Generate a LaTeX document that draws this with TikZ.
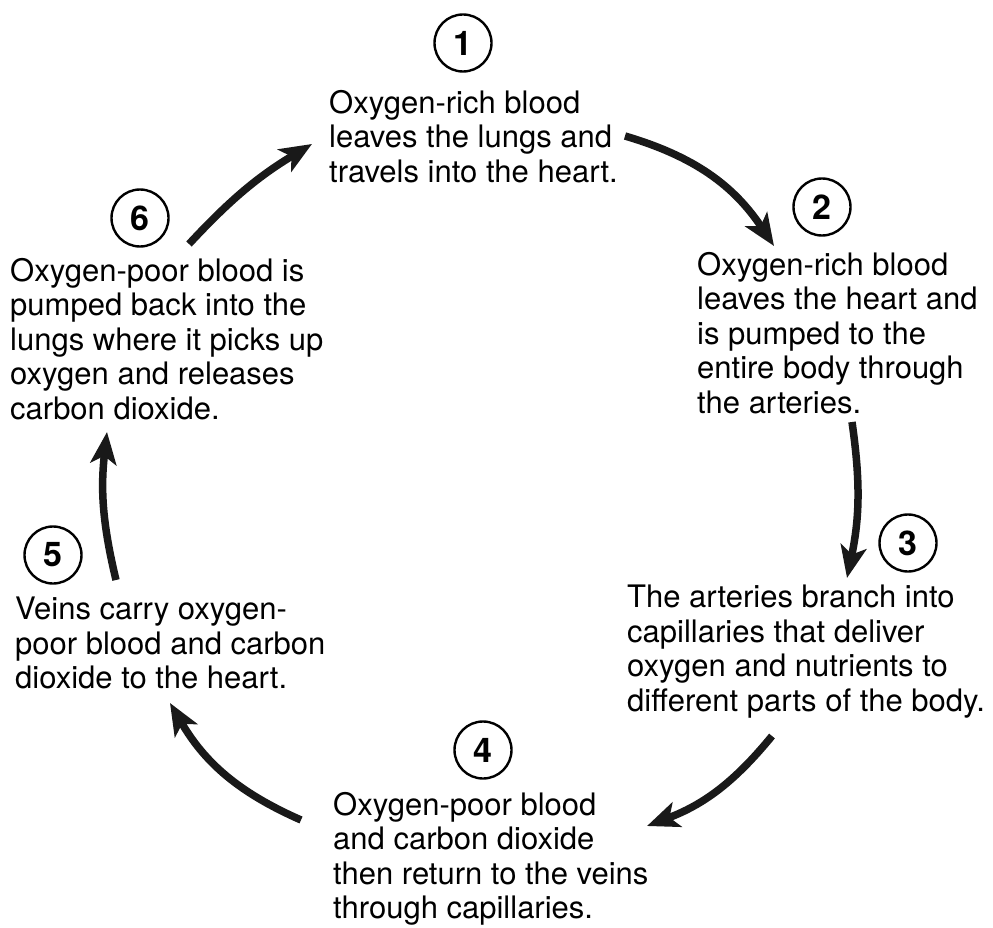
\documentclass[tikz,border=0pt]{standalone}
\usepackage{fontspec}
\setmainfont{TeX Gyre Heros}
\usetikzlibrary{arrows.meta}

\begin{document}
\begin{tikzpicture}[x=1pt, y=-1pt]
\tikzstyle{num}=[circle, draw=black, line width=2.4pt, minimum size=57pt, inner sep=0pt, font=\fontsize{34}{34}\selectfont\bfseries]
\tikzstyle{desc}=[anchor=north west, align=left, inner sep=0pt, font=\fontsize{31}{34.5}\selectfont]
\tikzstyle{connect}=[-{Stealth[length=32pt, width=26pt, inset=8pt]}, line width=7.5pt, black!90]

\useasboundingbox (0,0) rectangle (993,928);

  % step numbers
  \node[num] (n1) at (463,43)  {1};
  \node[num] (n2) at (822,207) {2};
  \node[num] (n3) at (908,543) {3};
  \node[num] (n4) at (483,750) {4};
  \node[num] (n5) at (53,555)  {5};
  \node[num] (n6) at (140,218) {6};

  % step texts
  \node[desc] (t1) at (329,90)  {Oxygen-rich blood\\leaves the lungs and\\travels into the heart.};
  \node[desc] (t2) at (697,252) {Oxygen-rich blood\\leaves the heart and\\is pumped to the\\entire body through\\the arteries.};
  \node[desc] (t3) at (627,585) {The arteries branch into\\capillaries that deliver\\oxygen and nutrients to\\different parts of the body.};
  \node[desc] (t4) at (333,792) {Oxygen-poor blood\\and carbon dioxide\\then return to the veins\\through capillaries.};
  \node[desc] (t5) at (15,597)  {Veins carry oxygen-\\poor blood and carbon\\dioxide to the heart.};
  \node[desc] (t6) at (10,258)  {Oxygen-poor blood is\\pumped back into the\\lungs where it picks up\\oxygen and releases\\carbon dioxide.};

  % arrow ends
  \coordinate (a61s) at (189,244);
  \coordinate (a61e) at (312,144);
  \coordinate (a12s) at (625,136);
  \coordinate (a12e) at (774,246);
  \coordinate (a23s) at (852,422);
  \coordinate (a23e) at (847,578);
  \coordinate (a34s) at (772,736);
  \coordinate (a34e) at (647,826);
  \coordinate (a45s) at (301,820);
  \coordinate (a45e) at (170,703);
  \coordinate (a56s) at (116,580);
  \coordinate (a56e) at (107,432);

  \path (a61s) edge [connect, bend left=8]  (a61e);
  \path (a12s) edge [connect, bend left=20] (a12e);
  \path (a23s) edge [connect, bend left=10] (a23e);
  \path (a34s) edge [connect, bend left=15] (a34e);
  \path (a45s) edge [connect, bend left=18] (a45e);
  \path (a56s) edge [connect, bend left=10] (a56e);

\end{tikzpicture}
\end{document}
